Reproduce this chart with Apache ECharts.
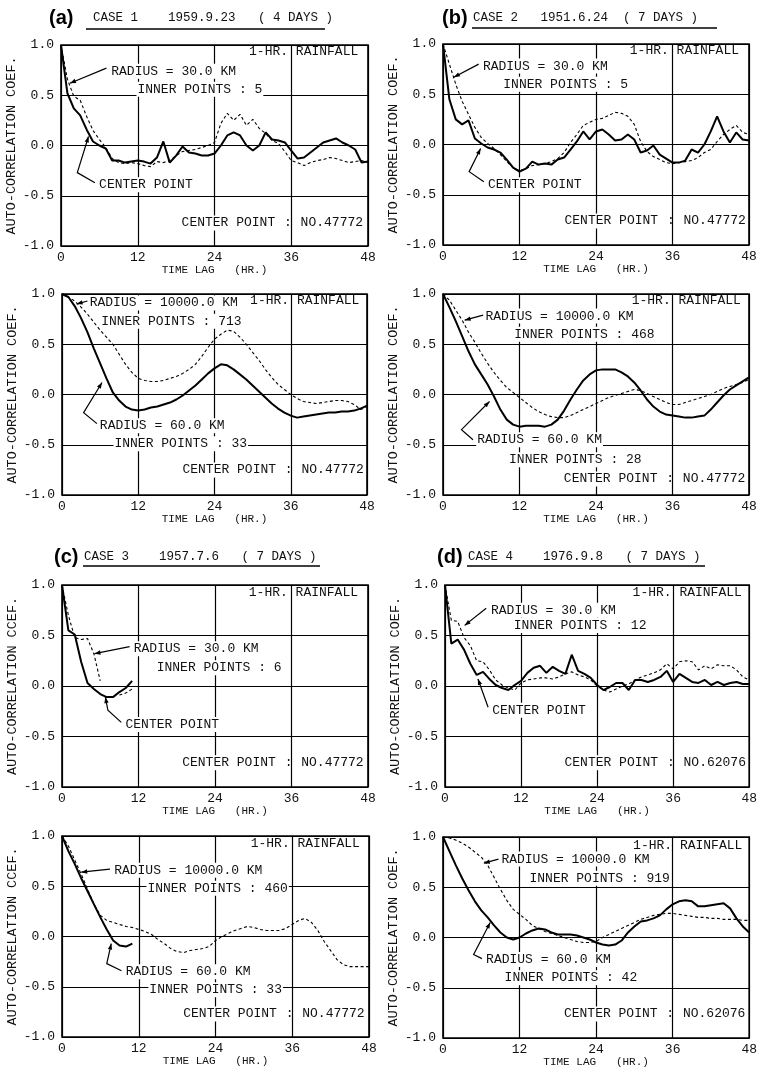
<!DOCTYPE html>
<html><head><meta charset="utf-8">
<script src="https://cdn.jsdelivr.net/npm/echarts@6/dist/echarts.min.js"></script>
<style>html,body{margin:0;padding:0;background:#fff}#c{width:760px;height:1077px}</style>
</head><body><div id="c"></div>
<script>
// ---------- DATA ----------
const lags = [0,1,2,3,4,5,6,7,8,9,10,11,12,13,14,15,16,17,18,19,20,21,22,23,24,25,26,27,28,29,30,31,32,33,34,35,36,37,38,39,40,41,42,43,44,45,46,47,48];
const xTicks = [0, 12, 24, 36, 48];
const yTicks = [-1.0, -0.5, 0.0, 0.5, 1.0];

// (a) CASE 1 — top: center point (solid), radius 30 km (dashed)
const a1Center = [1.0,0.52,0.37,0.30,0.16,0.04,0.0,-0.03,-0.15,-0.15,-0.17,-0.16,-0.15,-0.16,-0.18,-0.12,0.04,-0.17,-0.10,-0.01,-0.07,-0.08,-0.10,-0.10,-0.08,0.0,0.10,0.13,0.10,0.0,-0.05,0.0,0.13,0.06,0.05,0.03,-0.05,-0.13,-0.12,-0.07,-0.02,0.03,0.05,0.07,0.03,0.0,-0.04,-0.17,-0.16];
const a1Radius30 = [1.0,0.66,0.49,0.45,0.29,0.15,0.06,-0.02,-0.13,-0.17,-0.18,-0.17,-0.18,-0.20,-0.21,-0.16,-0.17,-0.15,-0.10,-0.06,-0.05,-0.04,-0.02,0.0,0.03,0.22,0.32,0.25,0.31,0.20,0.26,0.17,0.12,0.05,0.02,-0.06,-0.15,-0.17,-0.20,-0.17,-0.15,-0.14,-0.12,-0.13,-0.15,-0.17,-0.16,-0.15,-0.17];
// (a) bottom: radius 60 km (solid), radius 10000 km (dashed)
const a2Radius60 = [1.0,0.97,0.88,0.76,0.62,0.46,0.31,0.16,0.02,-0.06,-0.12,-0.15,-0.16,-0.15,-0.13,-0.12,-0.10,-0.08,-0.05,-0.01,0.04,0.09,0.15,0.21,0.26,0.30,0.29,0.25,0.20,0.15,0.09,0.03,-0.03,-0.09,-0.14,-0.18,-0.21,-0.23,-0.22,-0.21,-0.20,-0.19,-0.18,-0.18,-0.17,-0.17,-0.16,-0.14,-0.11];
const a2Radius10000 = [1.0,0.97,0.93,0.87,0.80,0.72,0.64,0.57,0.50,0.40,0.30,0.22,0.16,0.14,0.13,0.13,0.14,0.16,0.18,0.21,0.25,0.30,0.38,0.47,0.55,0.60,0.64,0.63,0.57,0.50,0.42,0.34,0.25,0.17,0.10,0.05,0.0,-0.04,-0.07,-0.08,-0.09,-0.08,-0.07,-0.06,-0.06,-0.07,-0.10,-0.15,-0.12];

// (b) CASE 2
const b1Center = [1.0,0.45,0.25,0.20,0.24,0.06,0.01,-0.03,-0.05,-0.08,-0.15,-0.23,-0.27,-0.24,-0.17,-0.20,-0.19,-0.20,-0.15,-0.13,-0.05,0.03,0.13,0.05,0.13,0.15,0.10,0.04,0.05,0.10,0.05,-0.08,-0.06,-0.01,-0.10,-0.14,-0.18,-0.18,-0.16,-0.05,-0.08,0.0,0.13,0.28,0.13,0.02,0.12,0.05,0.04];
const b1Radius30 = [1.0,0.80,0.60,0.43,0.30,0.17,0.07,0.01,-0.04,-0.10,-0.17,-0.23,-0.26,-0.24,-0.21,-0.20,-0.19,-0.17,-0.14,-0.08,0.02,0.10,0.19,0.22,0.25,0.26,0.29,0.32,0.31,0.28,0.20,0.03,-0.07,-0.12,-0.15,-0.18,-0.19,-0.18,-0.17,-0.16,-0.13,-0.08,-0.05,0.03,0.10,0.15,0.19,0.12,0.10];
const b2Radius60 = [1.0,0.87,0.73,0.58,0.43,0.30,0.20,0.10,-0.02,-0.15,-0.25,-0.30,-0.32,-0.31,-0.31,-0.31,-0.32,-0.30,-0.25,-0.16,-0.05,0.05,0.14,0.20,0.24,0.25,0.25,0.25,0.22,0.18,0.12,0.04,-0.05,-0.12,-0.17,-0.20,-0.21,-0.22,-0.23,-0.23,-0.22,-0.21,-0.15,-0.08,-0.01,0.05,0.09,0.13,0.17];
const b2Radius10000 = [1.0,0.94,0.84,0.74,0.62,0.52,0.41,0.31,0.22,0.14,0.07,0.02,-0.03,-0.08,-0.13,-0.17,-0.20,-0.22,-0.23,-0.23,-0.21,-0.18,-0.15,-0.12,-0.09,-0.06,-0.03,-0.01,0.01,0.03,0.05,0.04,0.01,-0.02,-0.05,-0.08,-0.10,-0.10,-0.08,-0.06,-0.04,-0.02,0.0,0.03,0.06,0.08,0.10,0.12,0.15];

// (c) CASE 3 (only ~11 h of lags on most curves)
const c1Center = [1.0,0.55,0.51,0.24,0.03,-0.03,-0.08,-0.11,-0.11,-0.06,-0.02,0.05];
const c1Radius30 = [1.0,0.70,0.48,0.46,0.47,0.32,0.05,null,null,-0.09,-0.07,-0.03];
const c2Radius60 = [1.0,0.85,0.72,0.58,0.45,0.32,0.19,0.07,-0.04,-0.09,-0.10,-0.07];
const c2Radius10000 = [1.0,0.90,0.76,0.62,0.47,0.32,0.21,0.16,0.14,0.12,0.10,0.09,0.07,0.05,0.02,-0.03,-0.07,-0.12,-0.15,-0.16,-0.14,-0.13,-0.12,-0.10,-0.04,0.0,0.03,0.06,0.08,0.10,0.09,0.07,0.06,0.06,0.06,0.08,0.12,0.16,0.18,0.14,0.06,-0.05,-0.14,-0.23,-0.28,-0.30,-0.30,-0.30,-0.30];

// (d) CASE 4
const d1Center = [1.0,0.42,0.46,0.36,0.22,0.11,0.14,0.07,0.01,-0.02,-0.04,0.01,0.05,0.13,0.18,0.20,0.13,0.19,0.15,0.12,0.31,0.15,0.12,0.08,0.01,-0.04,-0.01,0.03,0.03,-0.04,0.06,0.06,0.04,0.06,0.09,0.15,0.04,0.12,0.08,0.04,0.03,0.06,0.01,0.04,0.01,0.03,0.04,0.02,0.02];
const d1Radius30 = [1.0,0.65,0.64,0.48,0.40,0.25,0.24,0.16,0.06,0.01,-0.02,-0.04,0.03,0.06,0.07,0.08,0.08,0.07,0.09,0.12,0.14,0.11,0.09,0.06,0.0,-0.04,-0.06,-0.03,0.0,0.02,0.06,0.09,0.11,0.13,0.16,0.22,0.17,0.24,0.25,0.24,0.16,0.20,0.17,0.21,0.20,0.20,0.16,0.09,0.06];
const d2Radius60 = [1.0,0.86,0.72,0.59,0.47,0.36,0.27,0.20,0.12,0.05,0.0,-0.02,0.0,0.04,0.07,0.09,0.08,0.05,0.03,0.03,0.03,0.02,0.0,-0.02,-0.05,-0.07,-0.08,-0.07,-0.03,0.05,0.11,0.16,0.17,0.19,0.22,0.28,0.33,0.36,0.37,0.36,0.31,0.31,0.32,0.33,0.34,0.29,0.19,0.11,0.05];
const d2Radius10000 = [1.0,0.99,0.97,0.94,0.90,0.85,0.80,0.72,0.60,0.48,0.37,0.28,0.23,0.18,0.12,0.09,0.06,0.04,0.02,0.0,-0.02,-0.04,-0.05,-0.05,-0.04,0.0,0.03,0.06,0.09,0.12,0.15,0.18,0.20,0.22,0.23,0.24,0.24,0.23,0.22,0.21,0.20,0.20,0.19,0.19,0.18,0.18,0.18,0.17,0.17];

// ---------- LAYOUT / ANNOTATIONS ----------
const FONT = '"Liberation Mono", "DejaVu Sans Mono", monospace';
const TXT = '13px ' + FONT;
const COEF = 'AUTO-CORRELATION COEF.';
const CCEF = 'AUTO-CORRELATION CCEF.';

const panels = [
  { grid:{left:61,top:45,width:307,height:201}, solid:a1Center, dashed:a1Radius30, yName:COEF,
    texts:[['1-HR. RAINFALL',29.4,0.93,false],['RADIUS = 30.0 KM',7.7,0.74,true],['INNER POINTS : 5',11.8,0.56,true],['CENTER POINT',5.8,-0.39,true],['CP','NO.47772',18.7,-0.77]],
    lines:[[[7.1,0.77],[1.4,0.62]],[[5.3,-0.37],[2.55,-0.27],[4.3,0.09]]] },
  { grid:{left:443,top:44,width:306,height:201}, solid:b1Center, dashed:b1Radius30, yName:COEF,
    texts:[['1-HR. RAINFALL',29.3,0.93,false],['RADIUS = 30.0 KM',6.1,0.78,true],['INNER POINTS : 5',9.3,0.6,true],['CENTER POINT',6.9,-0.4,true],['CP','NO.47772',18.9,-0.76]],
    lines:[[[5.6,0.8],[1.7,0.67]],[[6.4,-0.37],[4.1,-0.27],[5.9,-0.04]]] },
  { grid:{left:62,top:294,width:305,height:201}, solid:a2Radius60, dashed:a2Radius10000, yName:COEF,
    texts:[['1-HR. RAINFALL',29.6,0.93,false],['RADIUS = 10000.0 KM',4.2,0.91,true],['INNER POINTS : 713',6.0,0.73,true],['RADIUS = 60.0 KM',5.8,-0.31,true],['INNER POINTS : 33',8.1,-0.49,true],['CP','NO.47772',18.8,-0.75]],
    lines:[[[4.0,0.93],[2.3,0.9]],[[5.5,-0.29],[3.4,-0.18],[6.3,0.12]]] },
  { grid:{left:443,top:294,width:306,height:201}, solid:b2Radius60, dashed:b2Radius10000, yName:COEF,
    texts:[['1-HR. RAINFALL',29.6,0.93,false],['RADIUS = 10000.0 KM',6.5,0.78,true],['INNER POINTS : 468',11.0,0.6,true],['RADIUS = 60.0 KM',5.2,-0.45,true],['INNER POINTS : 28',10.2,-0.65,true],['CP','NO.47772',18.8,-0.84]],
    lines:[[[6.3,0.79],[3.4,0.74]],[[4.7,-0.45],[2.9,-0.35],[7.3,-0.07]]] },
  { grid:{left:62,top:585,width:306,height:202}, solid:c1Center, dashed:c1Radius30, yName:CCEF,
    texts:[['1-HR. RAINFALL',29.3,0.93,false],['RADIUS = 30.0 KM',11.1,0.37,true],['INNER POINTS : 6',14.7,0.18,true],['CENTER POINT',9.8,-0.38,true],['CP','NO.47772',18.7,-0.76]],
    lines:[[[10.6,0.39],[5.1,0.32]],[[9.3,-0.36],[7.2,-0.24],[6.8,-0.11]]] },
  { grid:{left:445,top:585,width:306,height:202}, solid:d1Center, dashed:d1Radius30, yName:COEF,
    texts:[['1-HR. RAINFALL',29.6,0.93,false],['RADIUS = 30.0 KM',7.1,0.75,true],['INNER POINTS : 12',10.7,0.6,true],['CENTER POINT',7.3,-0.24,true],['CP','NO.62076',18.7,-0.76]],
    lines:[[[6.5,0.77],[3.1,0.6]],[[6.8,-0.21],[5.2,0.07]]] },
  { grid:{left:62,top:836,width:307,height:201}, solid:c2Radius60, dashed:c2Radius10000, yName:CCEF,
    texts:[['1-HR. RAINFALL',29.5,0.92,false],['RADIUS = 10000.0 KM',8.0,0.66,true],['INNER POINTS : 460',13.2,0.48,true],['RADIUS = 60.0 KM',9.8,-0.35,true],['INNER POINTS : 33',13.5,-0.53,true],['CP','NO.47772',18.8,-0.77]],
    lines:[[[7.5,0.67],[3.0,0.64]],[[9.3,-0.34],[7.0,-0.27],[7.7,-0.07]]] },
  { grid:{left:443,top:837,width:307,height:201}, solid:d2Radius60, dashed:d2Radius10000, yName:COEF,
    texts:[['1-HR. RAINFALL',29.8,0.91,false],['RADIUS = 10000.0 KM',9.0,0.78,true],['INNER POINTS : 919',13.4,0.59,true],['RADIUS = 60.0 KM',6.6,-0.22,true],['INNER POINTS : 42',9.5,-0.4,true],['CP','NO.62076',18.8,-0.76]],
    lines:[[[8.7,0.78],[6.4,0.74]],[[6.1,-0.21],[4.8,-0.17],[7.4,0.15]]] }
];

const titles = [
  {tag:'(a)', tx:49, text:'CASE 1    1959.9.23   ( 4 DAYS )', x:93, y:18, u0:86, u1:325, uy:29},
  {tag:'(b)', tx:442, text:'CASE 2   1951.6.24  ( 7 DAYS )', x:473, y:18, u0:472, u1:717, uy:28},
  {tag:'(c)', tx:54, text:'CASE 3    1957.7.6   ( 7 DAYS )', x:84, y:557, u0:83, u1:320, uy:566},
  {tag:'(d)', tx:437, text:'CASE 4    1976.9.8   ( 7 DAYS )', x:468, y:557, u0:467, u1:705, uy:566}
];

// ---------- CHART ----------
const chart = echarts.init(document.getElementById('c'));
function pairs(vals){ return vals.map((v,i)=>[lags[i], v === null ? '-' : v]); }

const grids=[], xAxes=[], yAxes=[], series=[];
panels.forEach((p,i)=>{
  grids.push(Object.assign({show:true, borderColor:'#000', borderWidth:1.6, containLabel:false}, p.grid));
  xAxes.push({type:'value', gridIndex:i, min:xTicks[0], max:xTicks[xTicks.length-1], interval:12,
    name:'TIME LAG   (HR.)', nameLocation:'middle', nameGap:17,
    nameTextStyle:{fontFamily:FONT, fontSize:11, color:'#111'},
    axisLine:{show:false}, axisTick:{show:false},
    axisLabel:{fontFamily:FONT, fontSize:13, color:'#111', margin:5},
    splitLine:{show:true, lineStyle:{color:'#000', width:1.2}}});
  yAxes.push({type:'value', gridIndex:i, min:yTicks[0], max:yTicks[yTicks.length-1], interval:0.5,
    name:p.yName, nameLocation:'middle', nameGap:36,
    nameTextStyle:{fontFamily:FONT, fontSize:13.5, color:'#111'},
    axisLine:{show:false}, axisTick:{show:false},
    axisLabel:{fontFamily:FONT, fontSize:13, color:'#111', margin:7, formatter:v=>v.toFixed(1)},
    splitLine:{show:true, lineStyle:{color:'#000', width:1.2}}});
  series.push({type:'line', xAxisIndex:i, yAxisIndex:i, data:pairs(p.solid), showSymbol:false, symbol:'none',
    connectNulls:false, lineStyle:{color:'#000', width:2}, z:3, silent:true});
  series.push({type:'line', xAxisIndex:i, yAxisIndex:i, data:pairs(p.dashed), showSymbol:false, symbol:'none',
    connectNulls:false, lineStyle:{color:'#000', width:1.1, type:[3,2.5]}, z:3, silent:true});
});

chart.setOption({animation:false, backgroundColor:'#fff', grid:grids, xAxis:xAxes, yAxis:yAxes, series:series});

// ---------- ANNOTATIONS ----------
const els = [];
const rich = {b:{backgroundColor:'#fff', font:TXT, padding:[1,1], fill:'#111'}, n:{font:TXT, fill:'#111'}};
function textEl(str, x, y){
  return {type:'text', x:x, y:y, z:5, silent:true,
    style:{text:str, font:TXT, fill:'#111', align:'left', textAlign:'left', verticalAlign:'middle', textVerticalAlign:'middle', rich:rich}};
}
panels.forEach((p,gi)=>{
  const px = (x,y)=>chart.convertToPixel({gridIndex:gi},[x,y]);
  p.texts.forEach(t=>{
    if (t[0]==='CP'){
      const q = px(t[2], t[3]);
      els.push(textEl('{b|CENTER POINT}{n| : }{b|'+t[1]+'}', q[0], q[1]));
    } else {
      const q = px(t[1], t[2]);
      els.push(textEl(t[3] ? '{b|'+t[0]+'}' : '{n|'+t[0]+'}', q[0], q[1]));
    }
  });
  p.lines.forEach(l=>{
    const pts = l.map(d=>px(d[0],d[1]));
    els.push({type:'polyline', z:6, silent:true, shape:{points:pts}, style:{stroke:'#000', lineWidth:1.2, fill:null}});
    const a = pts[pts.length-2], b = pts[pts.length-1];
    const dx=b[0]-a[0], dy=b[1]-a[1], L=Math.hypot(dx,dy)||1, ux=dx/L, uy=dy/L;
    const hl=6, hw=2.2;
    els.push({type:'polygon', z:6, silent:true, shape:{points:[[b[0],b[1]],[b[0]-hl*ux-hw*uy,b[1]-hl*uy+hw*ux],[b[0]-hl*ux+hw*uy,b[1]-hl*uy-hw*ux]]}, style:{fill:'#000'}});
  });
});
titles.forEach(t=>{
  els.push({type:'text', x:t.tx, y:t.y, z:5, silent:true, style:{text:t.tag, font:'bold 20px "Liberation Sans", Arial, sans-serif', fill:'#000', align:'left', textAlign:'left', verticalAlign:'middle', textVerticalAlign:'middle'}});
  els.push({type:'text', x:t.x, y:t.y, z:5, silent:true, style:{text:t.text, font:'12.5px '+FONT, fill:'#111', align:'left', textAlign:'left', verticalAlign:'middle', textVerticalAlign:'middle'}});
  els.push({type:'line', z:5, silent:true, shape:{x1:t.u0, y1:t.uy, x2:t.u1, y2:t.uy}, style:{stroke:'#000', lineWidth:1.3}});
});
chart.setOption({graphic:{elements:els}});
</script>
</body></html>
